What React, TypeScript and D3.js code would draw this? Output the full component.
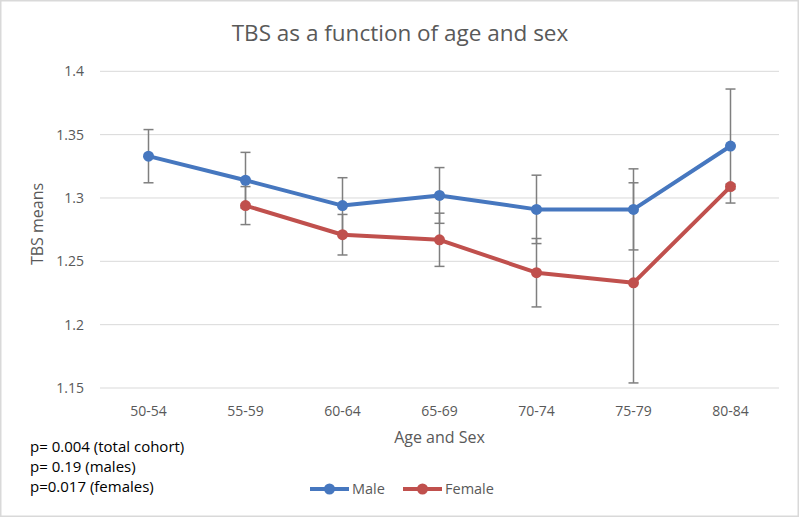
import React from "react";
import * as d3 from "d3";

const categories = ["50-54", "55-59", "60-64", "65-69", "70-74", "75-79", "80-84"];
const maleMeans = [1.333, 1.314, 1.294, 1.302, 1.291, 1.291, 1.341];
const maleErr = [0.021, 0.022, 0.022, 0.022, 0.027, 0.032, 0.045];
const femaleMeans = [null, 1.294, 1.271, 1.267, 1.241, 1.233, 1.309];
const femaleErr = [null, 0.015, 0.016, 0.021, 0.027, 0.079, 0.002];
const yTicks = [1.15, 1.2, 1.25, 1.3, 1.35, 1.4];
const notes = ["p= 0.004 (total cohort)", "p= 0.19 (males)", "p=0.017 (females)"];

const W = 800, H = 518;
const FONT = "'Open Sans', 'Noto Sans', sans-serif";
const MALE = "#4677BF";
const FEMALE = "#C0504D";

export default function App() {
  const x = d3.scaleBand<string>().domain(categories).range([100, 779]);
  const y = d3.scaleLinear().domain([1.15, 1.4]).range([388, 71.3]);
  const cx = (c: string) => (x(c) as number) + x.bandwidth() / 2;

  const series = [
    { name: "Male", means: maleMeans, errs: maleErr, color: MALE },
    { name: "Female", means: femaleMeans, errs: femaleErr, color: FEMALE },
  ];

  const line = d3
    .line<[string, number | null]>()
    .defined((d) => d[1] != null)
    .x((d) => cx(d[0]))
    .y((d) => y(d[1] as number));

  return (
    <svg width={W} height={H} style={{ position: "absolute", left: 0, top: 0 }} fontFamily={FONT}>
      <rect x={0.75} y={0.75} width={W - 2.5} height={H - 2.5} fill="#fff" stroke="#d9d9d9" strokeWidth={1.5} />
      <text x={400} y={41} textAnchor="middle" fontSize={22.5} fill="#595959">
        TBS as a function of age and sex
      </text>
      {yTicks.map((t) => (
        <g key={t}>
          <line x1={100} x2={779} y1={y(t)} y2={y(t)} stroke="#d9d9d9" strokeWidth={1} />
          <text x={84} y={y(t) + 5} textAnchor="end" fontSize={14} fill="#595959">
            {String(t)}
          </text>
        </g>
      ))}
      {categories.map((c) => (
        <text key={c} x={cx(c)} y={416} textAnchor="middle" fontSize={14} fill="#595959">
          {c}
        </text>
      ))}
      <text x={439.5} y={443} textAnchor="middle" fontSize={16} fill="#595959">
        Age and Sex
      </text>
      <text transform={`translate(43,224) rotate(-90)`} textAnchor="middle" fontSize={16} fill="#595959">
        TBS means
      </text>
      {series.map((s) => (
        <g key={s.name}>
          {categories.map((c, i) => {
            const m = s.means[i];
            const e = s.errs[i];
            if (m == null || e == null) return null;
            const X = cx(c);
            return (
              <g key={c} stroke="#7f7f7f" strokeWidth={1.5}>
                <line x1={X} x2={X} y1={y(m + e)} y2={y(m - e)} />
                <line x1={X - 5} x2={X + 5} y1={y(m + e)} y2={y(m + e)} />
                <line x1={X - 5} x2={X + 5} y1={y(m - e)} y2={y(m - e)} />
              </g>
            );
          })}
        </g>
      ))}
      {series.map((s) => (
        <g key={s.name}>
          <path
            d={line(categories.map((c, i) => [c, s.means[i]] as [string, number | null])) || ""}
            fill="none"
            stroke={s.color}
            strokeWidth={4}
            strokeLinejoin="round"
          />
          {categories.map((c, i) =>
            s.means[i] == null ? null : (
              <circle key={c} cx={cx(c)} cy={y(s.means[i] as number)} r={5.5} fill={s.color} />
            )
          )}
        </g>
      ))}
      {notes.map((n, i) => (
        <text key={n} x={30} y={452 + i * 20} fontSize={15} fill="#000">
          {n}
        </text>
      ))}
      {series.map((s, i) => {
        const lx = i === 0 ? 310 : 403;
        return (
          <g key={s.name}>
            <line x1={lx} x2={lx + 39} y1={489} y2={489} stroke={s.color} strokeWidth={4} />
            <circle cx={lx + 19.5} cy={489} r={5.5} fill={s.color} />
            <text x={lx + 42} y={494} fontSize={14.5} fill="#595959">
              {s.name}
            </text>
          </g>
        );
      })}
    </svg>
  );
}
